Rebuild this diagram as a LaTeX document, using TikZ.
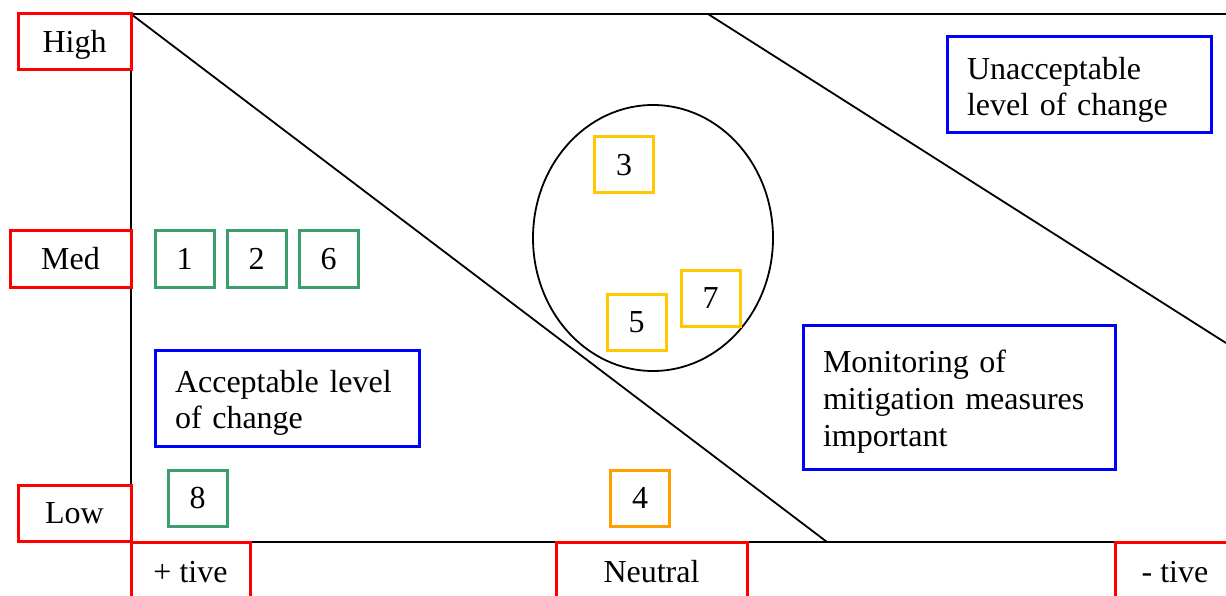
\documentclass[tikz,border=0pt]{standalone}
\usepackage{fontspec}
\setmainfont{Liberation Serif}
\usepackage{tikz}

\definecolor{boxred}{RGB}{255,0,0}
\definecolor{boxgreen}{RGB}{60,158,108}
\definecolor{boxyellow}{RGB}{255,200,0}
\definecolor{boxorange}{RGB}{255,160,0}
\definecolor{boxblue}{RGB}{0,0,255}
\newcommand{\zonetop}{\rule{0pt}{32pt}}

\begin{document}
\begin{tikzpicture}[x=1pt,y=-1pt,
  font=\fontsize{32}{36.8}\selectfont,
  axislabel/.style={draw=boxred,line width=3pt,minimum height=56pt,inner sep=0pt,text height=21pt,text depth=0pt},
  score/.style={draw=#1,line width=3pt,minimum width=59pt,minimum height=56pt,inner sep=0pt,text height=21pt,text depth=0pt},
  zonebox/.style={draw=boxblue,line width=3pt,inner xsep=20pt,inner ysep=0pt,align=left}]
 \useasboundingbox (0,0) rectangle (1226,596);
 \clip (0,0) rectangle (1226,596);
 % frame and zone boundaries
 \draw[line width=2pt] (1240,14) -- (131,14) -- (131,542) -- (1240,542);
 \draw[line width=1.8pt] (131,14) -- (827,542);
 \draw[line width=1.8pt] (708,14) -- (1226,343);
 \draw[line width=1.8pt] (653,238) ellipse [x radius=120pt,y radius=133pt];
 % axis labels
 \node[axislabel,minimum width=113pt] (high) at (74.5,42) {High};
 \node[axislabel,minimum width=121pt] (med) at (70.5,259) {Med};
 \node[axislabel,minimum width=113pt] (low) at (74.5,513) {Low};
 \node[axislabel,minimum width=119pt,minimum height=60pt] (pos) at (190.5,572) {+ tive};
 \node[axislabel,minimum width=191pt,minimum height=60pt] (neutral) at (651.5,572) {Neutral};
 \node[axislabel,minimum width=120pt,minimum height=60pt] (neg) at (1175,572) {- tive};
 % scored items
 \node[score=boxgreen] (s1) at (184.5,259) {1};
 \node[score=boxgreen] (s2) at (256.5,259) {2};
 \node[score=boxgreen] (s6) at (328.5,259) {6};
 \node[score=boxgreen] (s8) at (197.5,498) {8};
 \node[score=boxyellow] (s3) at (624,165) {3};
 \node[score=boxyellow] (s5) at (636.5,322) {5};
 \node[score=boxyellow] (s7) at (710.5,298) {7};
 \node[score=boxorange] (s4) at (640,498) {4};
 % zones
 \node[zonebox,text width=224pt,minimum height=96pt] (acceptable) at (287,398) {\zonetop Acceptable level\\of change};
 \node[zonebox,text width=224pt,minimum height=96pt] (unacceptable) at (1079,85) {\zonetop Unacceptable\\level of change};
 \node[zonebox,text width=272pt,minimum height=144pt] (monitoring) at (959,397) {\zonetop Monitoring of\\mitigation measures\\important};
\end{tikzpicture}
\end{document}
